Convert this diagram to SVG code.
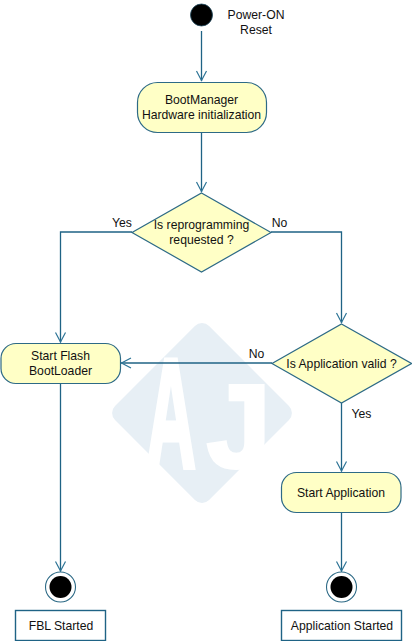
<svg xmlns="http://www.w3.org/2000/svg" width="412" height="641" viewBox="0 0 412 641">
<style>
.shape{fill:#ffffc6;stroke:#2d6a86;stroke-width:1.2}
.note{fill:#fff;stroke:#1f6385;stroke-width:1.4}
.line{fill:none;stroke:#1f6385;stroke-width:1.3}
text{font-family:"Liberation Sans",Arial,sans-serif;font-size:12.2px;fill:#111;text-anchor:middle}
.wm{font-family:"Liberation Sans",Arial,sans-serif;font-weight:700;fill:#fff;stroke:#fff;stroke-width:5;font-size:150px;text-anchor:start}
</style>
<defs>
<marker id="open" markerUnits="userSpaceOnUse" markerWidth="14" markerHeight="14" refX="11" refY="6" orient="auto">
<path d="M1 1L10.5 6L1 11" fill="none" stroke="#2d7496" stroke-width="1.2"/>
</marker>
</defs>
<rect width="412" height="641" fill="#fff"/>
<g id="watermark">
<rect x="135.500" y="346.500" width="133" height="133" rx="10" transform="rotate(45 202 413)" fill="#e7eff5"/>
<text class="wm" transform="translate(146 467) scale(.46 1.04)" x="0" y="0">A</text>
<text class="wm" transform="translate(207 467) scale(.76 .78)" x="0" y="0">J</text>
</g>
<g id="connectors">
<path class="line" marker-end="url(#open)" d="M201.5 31V81"/>
<path class="line" marker-end="url(#open)" d="M201.5 132V192"/>
<path class="line" marker-end="url(#open)" d="M132 232H60.5V342.5"/>
<path class="line" marker-end="url(#open)" d="M271 232H341.5V323"/>
<path class="line" marker-end="url(#open)" d="M272 363H121"/>
<path class="line" marker-end="url(#open)" d="M341.5 403V471.5"/>
<path class="line" marker-end="url(#open)" d="M60.5 383V571.5"/>
<path class="line" marker-end="url(#open)" d="M341.5 512V571.5"/>
<text x="122" y="227">Yes</text>
<text x="279.5" y="227">No</text>
<text x="256.5" y="358">No</text>
<text x="361.5" y="418">Yes</text>
</g>
<g id="start"><circle cx="201.5" cy="15" r="11" fill="#000" stroke="#1f4a60" stroke-width=".8"/></g>
<g id="power-on-label"><text x="256" y="19">Power-ON</text><text x="256" y="34">Reset</text></g>
<g id="bootmanager">
<rect class="shape" x="137.5" y="82.5" width="129" height="50" rx="20"/>
<text x="201.5" y="104">BootManager</text><text x="201.5" y="119">Hardware initialization</text>
</g>
<g id="decision-reprogramming">
<path class="shape" d="M201.5 193L271 232.5L201.5 272L132 232.5Z"/>
<text x="201.5" y="229">Is reprogramming</text><text x="201.5" y="244">requested ?</text>
</g>
<g id="start-flash">
<rect class="shape" x="1" y="343.5" width="119.5" height="40" rx="15"/>
<text x="60.5" y="360">Start Flash</text><text x="60.5" y="375">BootLoader</text>
</g>
<g id="decision-application">
<path class="shape" d="M341.5 324L411.5 363.500L341.5 403L272 363.500Z"/>
<text x="341.500" y="368">Is Application valid ?</text>
</g>
<g id="start-application">
<rect class="shape" x="281.500" y="472.500" width="119.500" height="40" rx="15"/>
<text x="341" y="497">Start Application</text>
</g>
<g id="end-fbl"><circle cx="60.500" cy="587" r="15" fill="#fff" stroke="#2d6a86" stroke-width="1.100"/><circle cx="60.500" cy="587" r="11" fill="#000"/></g>
<g id="end-application"><circle cx="341.500" cy="587" r="15" fill="#fff" stroke="#2d6a86" stroke-width="1.100"/><circle cx="341.500" cy="587" r="11" fill="#000"/></g>
<g id="fbl-started">
<rect class="note" x="15.500" y="610.500" width="90" height="30"/>
<text x="61" y="630">FBL Started</text>
</g>
<g id="application-started">
<rect class="note" x="281.500" y="610.500" width="120" height="30"/>
<text x="342" y="630">Application Started</text>
</g>
</svg>
